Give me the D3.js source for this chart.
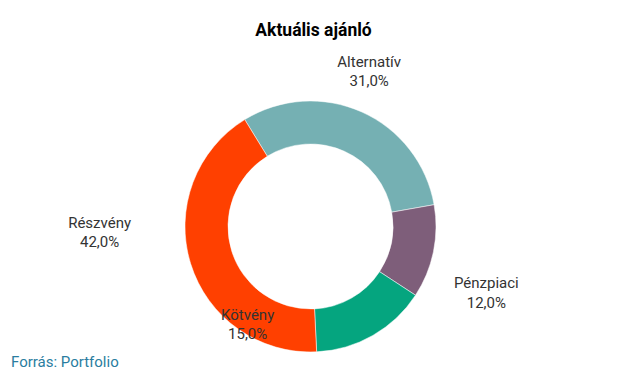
<!DOCTYPE html>
<html>
<head>
<meta charset="utf-8">
<script src="https://cdn.jsdelivr.net/npm/d3@7"></script>
<style>
  body { margin: 0; background: #fff; }
  text { font-family: Roboto, "Noto Sans", sans-serif; }
</style>
</head>
<body>
<div class="chart"></div>
<script>
var categories = ["Alternatív", "Pénzpiaci", "Kötvény", "Részvény"];
var values = [31.0, 12.0, 15.0, 42.0];
var colors = ["#75b0b3", "#7e5e7a", "#05a57f", "#ff4000"];

var width = 626, height = 378;
var cx = 310.5, cy = 226.5;
var outerR = 125.5, innerR = 82.5;
var startDeg = -31.6;

// label placement: shift from slice middle (deg) and distance from centre
var labelLayout = {
  "Alternatív": { shift: -3.5, r: 166 },
  "Pénzpiaci": { shift: 9.1, r: 188 },
  "Kötvény": { shift: 62.6, r: 116 },
  "Részvény": { shift: 15.7, r: 211 }
};

var data = categories.map((c, i) => ({ name: c, value: values[i], color: colors[i] }));

var svg = d3.select(".chart").append("svg")
  .attr("width", width)
  .attr("height", height);

svg.append("text")
  .attr("x", 313.5)
  .attr("y", 35.5)
  .attr("text-anchor", "middle")
  .attr("font-size", "17.5px")
  .attr("font-weight", "bold")
  .attr("fill", "#000")
  .text("Aktuális ajánló");

var rad = Math.PI / 180;
var pie = d3.pie()
  .sort(null)
  .value(d => d.value)
  .startAngle(startDeg * rad)
  .endAngle((startDeg + 360) * rad);

var arc = d3.arc().innerRadius(innerR).outerRadius(outerR);

var grp = svg.append("g").attr("transform", `translate(${cx},${cy})`);
var arcs = pie(data);

grp.selectAll("path")
  .data(arcs)
  .enter()
  .append("path")
  .attr("d", arc)
  .attr("fill", d => d.data.color)
  .attr("stroke", "#fff")
  .attr("stroke-width", 0.5);

var fmt = v => d3.format(".1f")(v).replace(".", ",") + "%";

var labels = grp.selectAll("g.lbl")
  .data(arcs)
  .enter()
  .append("g")
  .attr("class", "lbl")
  .attr("transform", d => {
    var l = labelLayout[d.data.name];
    var a = (d.startAngle + d.endAngle) / 2 + l.shift * rad;
    return `translate(${l.r * Math.sin(a)},${-l.r * Math.cos(a)})`;
  });

labels.append("text")
  .attr("text-anchor", "middle")
  .attr("y", -4.5)
  .attr("font-size", "15px")
  .attr("fill", "#333")
  .text(d => d.data.name);

labels.append("text")
  .attr("text-anchor", "middle")
  .attr("y", 15)
  .attr("font-size", "15px")
  .attr("fill", "#333")
  .text(d => fmt(d.data.value));

svg.append("text")
  .attr("x", 11)
  .attr("y", 366.5)
  .attr("font-size", "15px")
  .attr("fill", "#2a7da0")
  .text("Forrás: Portfolio");
</script>
</body>
</html>
